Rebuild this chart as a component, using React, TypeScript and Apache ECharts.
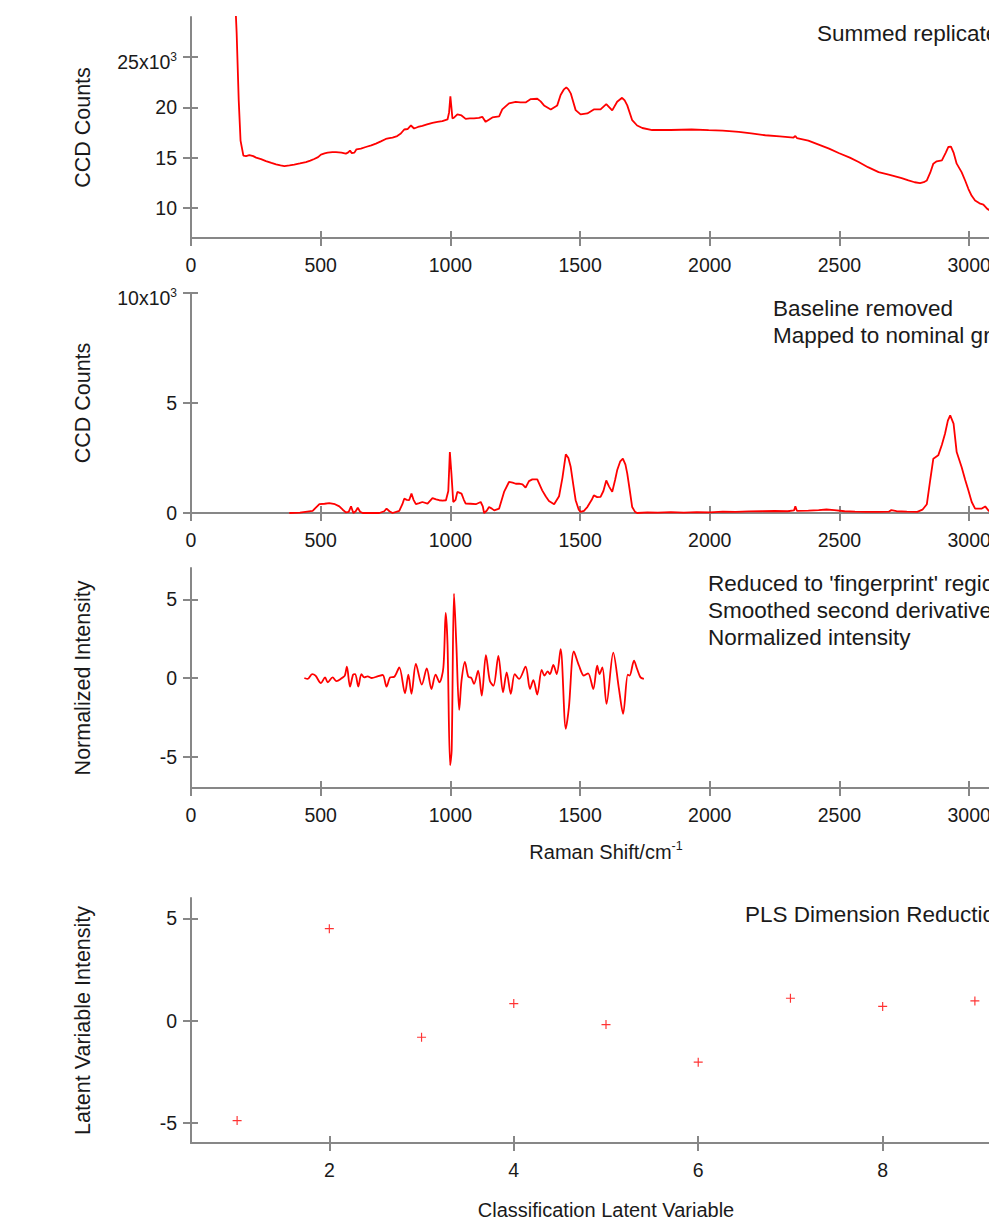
import React, { useEffect, useRef } from 'react';
import * as echarts from 'echarts';

const FONT = "'Liberation Sans', Arial, Helvetica, sans-serif";
const AXIS_COLOR = '#878787';
const TEXT_COLOR = '#1a1a1a';
const RED = '#ff0000';

// ---- tick values ----
const ramanTicks = [0, 500, 1000, 1500, 2000, 2500, 3000];
const summedTicks = [10000, 15000, 20000, 25000];
const baselineTicks = [0, 5000, 10000];
const derivTicks = [-5, 0, 5];
const lvXTicks = [2, 4, 6, 8];
const lvYTicks = [-5, 0, 5];

// ---- panel 1: summed replicates (Raman shift, CCD counts) ----
const summedSpectrum = [
  [170, 31000], [176, 27400], [184, 20700], [191, 16700], [202, 15200], [212, 15150], [225, 15250],
  [240, 15150], [251, 15000], [270, 14850], [289, 14660], [310, 14480], [328, 14330], [345, 14220],
  [360, 14160], [380, 14220], [398, 14300], [420, 14420], [443, 14560], [460, 14700], [475, 14860],
  [490, 15050], [501, 15300], [515, 15420], [527, 15500], [545, 15550], [559, 15550], [580, 15500],
  [597, 15400], [605, 15500], [613, 15700], [620, 15450], [630, 15500], [638, 15830], [655, 15900],
  [674, 16060], [695, 16230], [713, 16400], [732, 16620], [751, 16860], [765, 16950], [777, 17000],
  [795, 17150], [809, 17400], [822, 17800], [835, 17850], [848, 18200], [860, 17900], [875, 18050],
  [892, 18160], [910, 18300], [931, 18460], [950, 18550], [969, 18630], [989, 18800], [995, 19500],
  [1000, 21100], [1004, 20000], [1008, 18900], [1015, 19000], [1027, 19300], [1043, 19200],
  [1059, 18860], [1075, 18900], [1091, 18900], [1110, 18950], [1123, 19060], [1136, 18560],
  [1150, 18800], [1162, 19000], [1188, 19100], [1200, 19800], [1226, 20400], [1252, 20560],
  [1270, 20500], [1290, 20500], [1310, 20830], [1335, 20860], [1348, 20600], [1361, 20200],
  [1387, 19800], [1412, 20200], [1425, 21230], [1438, 21800], [1447, 22000], [1455, 21800],
  [1464, 21400], [1483, 19730], [1502, 19300], [1528, 19400], [1553, 19800], [1579, 19800],
  [1601, 20330], [1624, 19700], [1643, 20560], [1662, 20960], [1672, 20700], [1682, 20200],
  [1701, 18730], [1720, 18200], [1740, 17950], [1778, 17750], [1850, 17750], [1930, 17800],
  [1996, 17730], [2050, 17680], [2112, 17560], [2160, 17420], [2214, 17230], [2270, 17120],
  [2323, 17000], [2330, 17150], [2336, 16950], [2380, 16700], [2420, 16300], [2460, 15900],
  [2497, 15460], [2540, 15000], [2574, 14560], [2610, 14050], [2651, 13560], [2690, 13300],
  [2715, 13130], [2740, 12950], [2766, 12730], [2790, 12550], [2811, 12460], [2825, 12550],
  [2837, 12730], [2850, 13500], [2862, 14400], [2875, 14630], [2895, 14730], [2910, 15500],
  [2920, 16060], [2930, 16100], [2940, 15500], [2952, 14400], [2971, 13560], [2985, 12700],
  [2997, 11900], [3010, 11200], [3023, 10730], [3040, 10450], [3055, 10330], [3070, 9900], [3090, 9600],
];

// ---- panel 2: baseline removed ----
const baselineSpectrum = [
  [379, 0], [420, 20], [469, 100], [495, 400], [515, 420], [533, 450], [555, 400], [572, 300],
  [585, 150], [597, 30], [608, 50], [617, 300], [626, 0], [635, 80], [643, 240], [652, 60], [662, 0],
  [700, 10], [726, 0], [745, 80], [754, 200], [765, 80], [777, 0], [803, 100], [815, 400], [822, 650],
  [832, 600], [841, 580], [850, 880], [858, 600], [867, 400], [880, 450], [892, 500], [912, 430],
  [931, 680], [945, 620], [957, 580], [970, 560], [983, 580], [992, 1000], [998, 2770], [1004, 1800],
  [1011, 500], [1020, 600], [1027, 960], [1043, 880], [1052, 600], [1059, 430], [1078, 420],
  [1098, 400], [1117, 500], [1125, 300], [1130, 0], [1140, 100], [1149, 270], [1160, 200], [1169, 120],
  [1188, 200], [1207, 960], [1226, 1410], [1240, 1380], [1252, 1330], [1265, 1330], [1278, 1300],
  [1290, 1150], [1303, 1450], [1316, 1530], [1335, 1530], [1354, 1030], [1368, 750], [1380, 550],
  [1400, 400], [1419, 760], [1432, 1600], [1445, 2670], [1455, 2500], [1464, 2090], [1475, 1200],
  [1483, 580], [1495, 150], [1502, 50], [1515, 100], [1528, 270], [1545, 600], [1553, 800],
  [1566, 720], [1579, 730], [1590, 1000], [1601, 1480], [1612, 1200], [1624, 960], [1635, 1500],
  [1643, 1940], [1655, 2350], [1665, 2470], [1675, 2200], [1682, 1790], [1692, 1000], [1701, 270],
  [1712, 50], [1720, 0], [1760, 30], [1800, 20], [1850, 40], [1900, 20], [1950, 40], [2000, 30],
  [2050, 60], [2100, 50], [2150, 70], [2200, 80], [2250, 90], [2300, 80], [2325, 120], [2330, 300],
  [2336, 100], [2380, 110], [2420, 130], [2450, 160], [2480, 130], [2520, 80], [2560, 60], [2600, 50],
  [2650, 50], [2690, 60], [2700, 130], [2720, 80], [2760, 60], [2800, 50], [2820, 150], [2837, 400],
  [2850, 1500], [2862, 2470], [2881, 2620], [2895, 3100], [2907, 3600], [2918, 4200], [2927, 4440],
  [2940, 4060], [2952, 2770], [2971, 2090], [2985, 1500], [2997, 1030], [3010, 500], [3023, 200],
  [3049, 200], [3062, 300], [3075, 100], [3100, 50],
];

// ---- panel 3: fingerprint region, smoothed 2nd derivative, normalized ----
const derivSpectrum = [
  [437, 0], [450, -0.06], [467, 0.25], [480, 0.15], [501, -0.32], [517, 0.04], [527, -0.27],
  [546, 0.04], [561, -0.2], [582, 0], [593, 0.15], [601, 0.72], [613, -0.55], [625, 0.21], [633, 0.25],
  [645, -0.55], [657, 0.25], [668, 0.04], [681, 0.1], [697, 0], [719, 0.1], [739, 0.19], [754, -0.55],
  [768, 0.04], [784, 0.08], [803, 0.67], [825, -0.97], [838, 0.21], [850, -1.01], [867, 0.89],
  [890, -0.42], [909, 0.61], [927, -0.7], [943, 0.21], [958, -0.27], [973, 0.67], [982, 4.15],
  [989, 2.15], [999, -5.55], [1005, -4.6], [1014, 5.36], [1023, 2.15], [1034, -2.03], [1043, -0.17],
  [1056, 1.03], [1069, 0.08], [1081, 0], [1091, -0.38], [1107, 0.46], [1121, -1.12], [1137, 1.46],
  [1152, -0.17], [1166, -0.49], [1185, 1.41], [1203, -0.91], [1217, 0.36], [1233, -1.01], [1248, 0.25],
  [1265, -0.06], [1290, 0.72], [1307, -0.7], [1320, -0.13], [1335, -1.05], [1352, 0.51], [1363, 0.15],
  [1375, 0.42], [1384, 0.25], [1397, 0.84], [1410, 0.25], [1425, 1.83], [1445, -3.23], [1457, -1.86],
  [1476, 1.69], [1496, 0.78], [1515, 0.15], [1531, 0.3], [1551, -0.7], [1566, 0.78], [1575, 0.25],
  [1586, 0.67], [1602, -1.65], [1628, 1.62], [1650, -0.7], [1666, -2.28], [1684, 0.21], [1691, 0.15],
  [1708, 1.1], [1720, 0.57], [1733, 0.04], [1746, -0.06],
];

// ---- panel 4: PLS latent variables ----
const lvIndex = [1, 2, 3, 4, 5, 6, 7, 8, 9];
const lvIntensity = [-4.9, 4.5, -0.82, 0.83, -0.2, -2.04, 1.09, 0.69, 0.96];

// ---- layout ----
const LEFT = 191;
const WIDTH = 830;
const panels = [
  { top: 17, height: 221 },
  { top: 293, height: 220 },
  { top: 568, height: 220 },
  { top: 898, height: 245 },
];

const tickLine = { color: AXIS_COLOR, width: 2 };
const labelBase = { color: TEXT_COLOR, fontFamily: FONT, fontSize: 19.5 };
const expRich = {
  a: { color: TEXT_COLOR, fontFamily: FONT, fontSize: 19.5, lineHeight: 19, padding: [9, 0, 0, 0] },
  b: { color: TEXT_COLOR, fontFamily: FONT, fontSize: 12, lineHeight: 12, padding: [3, 0, 0, 0], verticalAlign: 'top' },
};

function mainX(gridIndex: number, min: number, max: number, ticks: number[], extra: any = {}) {
  return {
    type: 'value', gridIndex, min, max, position: 'bottom',
    axisLine: { show: true, onZero: false, lineStyle: tickLine },
    axisTick: { show: true, inside: false, length: 8, customValues: ticks, lineStyle: tickLine },
    axisLabel: { show: true, customValues: ticks, margin: 17, formatter: (v: number) => String(v), ...labelBase },
    splitLine: { show: false },
    ...extra,
  };
}
function mainY(gridIndex: number, min: number, max: number, ticks: number[], name: string, formatter: any, extra: any = {}) {
  return {
    type: 'value', gridIndex, min, max, position: 'left',
    axisLine: { show: true, onZero: false, lineStyle: tickLine },
    axisTick: { show: true, inside: false, length: 8, customValues: ticks, lineStyle: tickLine },
    axisLabel: { show: true, customValues: ticks, margin: 14, formatter, rich: expRich, ...labelBase },
    splitLine: { show: false },
    name, nameLocation: 'middle', nameGap: 97,
    nameTextStyle: { color: TEXT_COLOR, fontFamily: FONT, fontSize: 21.5, lineHeight: 22 },
    ...extra,
  };
}
function innerAxis(gridIndex: number, min: number, max: number, ticks: number[], position: string) {
  return {
    type: 'value', gridIndex, min, max, position,
    axisLine: { show: false, onZero: false },
    axisTick: { show: true, inside: true, length: 7, customValues: ticks, lineStyle: tickLine },
    axisLabel: { show: false },
    splitLine: { show: false },
  };
}

const kFormatter = (expAt: number) => (v: number) =>
  v === expAt ? `{a|${v / 1000}x10}{b|3}` : String(v / 1000);
const plainFormatter = (v: number) => String(v);

const xRanges: [number, number, number[]][] = [
  [0, 3200, ramanTicks], [0, 3200, ramanTicks], [0, 3200, ramanTicks], [0.5, 9.5, lvXTicks],
];
const yRanges: [number, number, number[]][] = [
  [7000, 29000, summedTicks], [0, 10000, baselineTicks], [-7, 7, derivTicks], [-6, 6, lvYTicks],
];

const annotations = [
  { left: 817, top: 19.5, text: 'Summed replicates' },
  { left: 773, top: 294.5, text: 'Baseline removed\nMapped to nominal grid' },
  { left: 708, top: 569.5, text: "Reduced to 'fingerprint' region\nSmoothed second derivative\nNormalized intensity" },
  { left: 745, top: 900.5, text: 'PLS Dimension Reduction' },
];

function buildOption() {
  const grids: any[] = [];
  for (let k = 0; k < 2; k++) {
    panels.forEach((p) => grids.push({ left: LEFT, width: WIDTH, top: p.top, height: p.height, containLabel: false }));
  }
  const xTitleRich = {
    a: { color: TEXT_COLOR, fontFamily: FONT, fontSize: 20, lineHeight: 26 },
    b: { color: TEXT_COLOR, fontFamily: FONT, fontSize: 12.5, lineHeight: 12, verticalAlign: 'top' },
  };
  const xAxis: any[] = [
    mainX(0, 0, 3200, ramanTicks),
    mainX(1, 0, 3200, ramanTicks),
    mainX(2, 0, 3200, ramanTicks, {
      name: '{a|Raman Shift/cm}{b|-1}', nameLocation: 'middle', nameGap: 51,
      nameTextStyle: { fontSize: 20, fontFamily: FONT, color: TEXT_COLOR, rich: xTitleRich },
    }),
    mainX(3, 0.5, 9.5, lvXTicks, {
      name: 'Classification Latent Variable', nameLocation: 'middle', nameGap: 57,
      nameTextStyle: { fontSize: 20, fontFamily: FONT, color: TEXT_COLOR, lineHeight: 20 },
    }),
  ];
  const yAxis: any[] = [
    mainY(0, 7000, 29000, summedTicks, 'CCD Counts', kFormatter(25000)),
    mainY(1, 0, 10000, baselineTicks, 'CCD Counts', kFormatter(10000)),
    mainY(2, -7, 7, derivTicks, 'Normalized Intensity', plainFormatter),
    mainY(3, -6, 6, lvYTicks, 'Latent Variable Intensity', plainFormatter),
  ];
  for (let i = 0; i < 4; i++) {
    xAxis.push(innerAxis(4 + i, xRanges[i][0], xRanges[i][1], xRanges[i][2], 'bottom'));
    yAxis.push(innerAxis(4 + i, yRanges[i][0], yRanges[i][1], yRanges[i][2], 'left'));
  }
  const lineSeries = (idx: number, data: number[][], smooth: number | boolean = false) => ({
    type: 'line', xAxisIndex: idx, yAxisIndex: idx, data, showSymbol: false, symbol: 'none',
    clip: true, smooth, lineStyle: { color: RED, width: 1.8 }, itemStyle: { color: RED },
  });
  return {
    animation: false,
    backgroundColor: '#ffffff',
    textStyle: { fontFamily: FONT },
    grid: grids,
    xAxis,
    yAxis,
    series: [
      lineSeries(0, summedSpectrum),
      lineSeries(1, baselineSpectrum),
      lineSeries(2, derivSpectrum, 0.3),
      {
        type: 'scatter', xAxisIndex: 3, yAxisIndex: 3,
        data: lvIndex.map((x, i) => [x, lvIntensity[i]]),
        symbol: 'path://M4.35,0H5.65V10H4.35ZM0,4.35H10V5.65H0Z',
        symbolSize: 9,
        itemStyle: { color: RED },
      },
    ],
    graphic: annotations.map((a) => ({
      type: 'text', left: a.left, top: a.top, silent: true,
      style: { text: a.text, fontSize: 22.5, fontFamily: FONT, fill: TEXT_COLOR, lineHeight: 27 },
    })),
  };
}

export default function App() {
  const ref = useRef<HTMLDivElement>(null);
  useEffect(() => {
    if (!ref.current) return;
    const chart = echarts.init(ref.current, null, { renderer: 'svg' });
    chart.setOption(buildOption() as any);
    return () => chart.dispose();
  }, []);
  return (
    <div style={{ position: 'fixed', left: 0, top: 0, width: 989, height: 1229, overflow: 'hidden', background: '#fff' }}>
      <div ref={ref} style={{ width: 1120, height: 1229 }} />
    </div>
  );
}
